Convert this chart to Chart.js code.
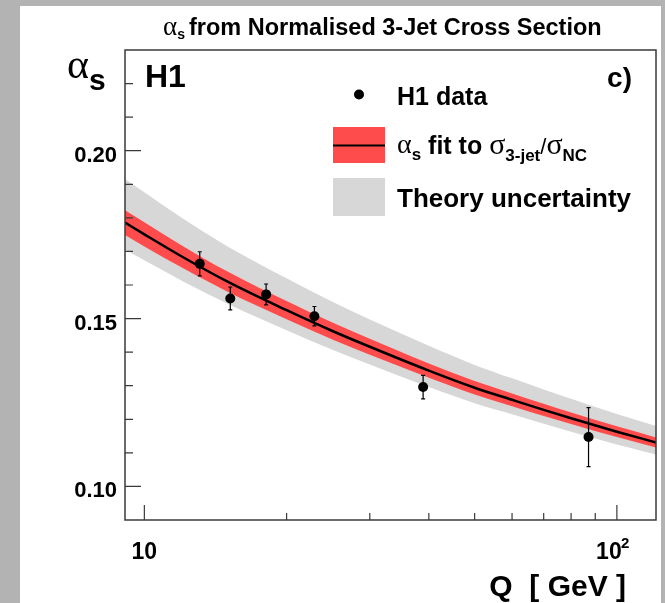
<!DOCTYPE html>
<html>
<head>
<meta charset="utf-8">
<title>alpha_s from normalised 3-jet cross section</title>
<script src="https://cdn.jsdelivr.net/npm/chart.js@4.4.1/dist/chart.umd.min.js"></script>
<style>
    html, body { margin: 0; padding: 0; background: #b3b3b3; }
    #wrap { width: 665px; height: 603px; }
</style>
</head>
<body>
<div id="wrap"><canvas id="alphaChart" width="665" height="603"></canvas></div>
<script>
const curveQ = [9.1, 10, 12, 15, 20, 25, 30, 40, 50, 60, 70, 80, 100, 121];
const fitAlpha = [0.1786, 0.1751, 0.1685, 0.1610, 0.1525, 0.1463, 0.1416, 0.1345, 0.1294, 0.1258, 0.1228, 0.1203, 0.1163, 0.1131];
const fitHi = [0.1823, 0.1787, 0.1718, 0.1640, 0.1552, 0.1488, 0.1440, 0.1366, 0.1314, 0.1277, 0.1246, 0.1220, 0.1179, 0.1146];
const fitLo = [0.1749, 0.1715, 0.1652, 0.1580, 0.1498, 0.1438, 0.1392, 0.1324, 0.1274, 0.1239, 0.1210, 0.1186, 0.1147, 0.1116];
const theoryHi = [0.1916, 0.1876, 0.1800, 0.1715, 0.1620, 0.1550, 0.1497, 0.1419, 0.1362, 0.1322, 0.1289, 0.1261, 0.1216, 0.1180];
const theoryLo = [0.1706, 0.1674, 0.1613, 0.1544, 0.1465, 0.1407, 0.1363, 0.1296, 0.1248, 0.1215, 0.1187, 0.1163, 0.1125, 0.1095];

// H1 data points
const dataQ = [13.1, 15.2, 18.1, 22.9, 38.9, 87.1];
const dataAlpha = [0.1663, 0.1560, 0.1572, 0.1507, 0.1296, 0.1147];
const dataErr = [0.0036, 0.0034, 0.0031, 0.0029, 0.0035, 0.0088];

// axis ticks
const yMajor = [0.10, 0.15, 0.20];
const yMinor = [0.11, 0.12, 0.13, 0.14, 0.16, 0.17, 0.18, 0.19, 0.21, 0.22];
const yLabels = ["0.10", "0.15", "0.20"];
const xMajor = [10, 100];
const xMinor = [20, 30, 40, 50, 60, 70, 80, 90];

const RED = "#fe4c4c";
const GREY = "#d7d7d7";
const BOLD = "bold {s}px 'Liberation Sans', Arial, sans-serif";
const SERIF = "{s}px 'Liberation Serif', 'Times New Roman', serif";
const font = (tpl, s) => tpl.replace("{s}", s);

const pts = ys => curveQ.map((q, i) => ({ x: q, y: ys[i] }));

function text(ctx, str, x, y, f, align) {
    ctx.font = f;
    ctx.textAlign = align || "left";
    ctx.textBaseline = "alphabetic";
    ctx.fillText(str, x, y);
    return x + ctx.measureText(str).width;
}

const backdrop = {
    id: "backdrop",
    beforeDraw(chart) {
        const ctx = chart.ctx;
        ctx.save();
        ctx.fillStyle = "#b3b3b3";
        ctx.fillRect(0, 0, chart.width, chart.height);
        ctx.fillStyle = "#ffffff";
        ctx.fillRect(20, 6, 641, 597);
        ctx.restore();
    }
};

const errorBars = {
    id: "errorBars",
    afterDatasetsDraw(chart) {
        const ctx = chart.ctx;
        const xs = chart.scales.x, ys = chart.scales.y;
        ctx.save();
        ctx.strokeStyle = "#000";
        ctx.lineWidth = 1.2;
        dataQ.forEach((q, i) => {
            const px = xs.getPixelForValue(q);
            const y1 = ys.getPixelForValue(dataAlpha[i] + dataErr[i]);
            const y2 = ys.getPixelForValue(dataAlpha[i] - dataErr[i]);
            ctx.beginPath();
            ctx.moveTo(px, y1); ctx.lineTo(px, y2);
            ctx.moveTo(px - 2, y1); ctx.lineTo(px + 2, y1);
            ctx.moveTo(px - 2, y2); ctx.lineTo(px + 2, y2);
            ctx.stroke();
        });
        ctx.restore();
    }
};

const decorations = {
    id: "decorations",
    afterDraw(chart) {
        const ctx = chart.ctx;
        const a = chart.chartArea;
        const xs = chart.scales.x, ys = chart.scales.y;
        ctx.save();
        ctx.fillStyle = "#000";

        // frame
        ctx.strokeStyle = "#3a3a3a";
        ctx.lineWidth = 1.5;
        ctx.strokeRect(a.left, a.top, a.right - a.left, a.bottom - a.top);

        // ticks, drawn inward like ROOT
        ctx.lineWidth = 1.2;
        ctx.beginPath();
        yMajor.forEach(v => { const p = ys.getPixelForValue(v); ctx.moveTo(a.left, p); ctx.lineTo(a.left + 16, p); });
        yMinor.forEach(v => { const p = ys.getPixelForValue(v); ctx.moveTo(a.left, p); ctx.lineTo(a.left + 8, p); });
        xMajor.forEach(v => { const p = xs.getPixelForValue(v); ctx.moveTo(p, a.bottom); ctx.lineTo(p, a.bottom - 15); });
        xMinor.forEach(v => { const p = xs.getPixelForValue(v); ctx.moveTo(p, a.bottom); ctx.lineTo(p, a.bottom - 7); });
        ctx.stroke();

        // tick labels
        yMajor.forEach((v, i) => text(ctx, yLabels[i], 117, ys.getPixelForValue(v) + 11, font(BOLD, 22), "right"));
        const x10 = xs.getPixelForValue(10);
        text(ctx, "10", x10, 559, font(BOLD, 23), "center");
        const x100 = xs.getPixelForValue(100);
        text(ctx, "10", x100 - 8, 559, font(BOLD, 23), "center");
        text(ctx, "2", x100 + 4, 548, font(BOLD, 15));

        // axis titles
        text(ctx, "Q  [ GeV ]", 626, 596, font(BOLD, 30), "right");
        let x = text(ctx, "\u03b1", 67, 78, font(SERIF, 42));
        text(ctx, "s", x, 90, font(BOLD, 30));

        // plot title
        x = text(ctx, "\u03b1", 163, 35, font(SERIF, 27));
        text(ctx, "s", x, 39, font(BOLD, 14));
        text(ctx, "from Normalised 3-Jet Cross Section", 189, 35, font(BOLD, 23.5));

        // labels in the frame
        text(ctx, "H1", 145, 87, font(BOLD, 32));
        text(ctx, "c)", 632, 87, font(BOLD, 28), "right");

        // legend
        ctx.beginPath();
        ctx.arc(359, 94.5, 5, 0, Math.PI * 2);
        ctx.fill();
        text(ctx, "H1 data", 397, 105, font(BOLD, 25));

        ctx.fillStyle = RED;
        ctx.fillRect(333, 127, 52, 36);
        ctx.fillStyle = "#000";
        ctx.fillRect(333, 144.5, 52, 2);
        x = text(ctx, "\u03b1", 397, 153, font(SERIF, 28));
        x = text(ctx, "s", x, 160, font(BOLD, 17));
        x = text(ctx, " fit to ", x, 154, font(BOLD, 25));
        x = text(ctx, "\u03c3", x, 154, font(SERIF, 30));
        x = text(ctx, "3-jet", x, 161, font(BOLD, 17));
        x = text(ctx, "/", x, 154, font("{s}px 'Liberation Sans', Arial, sans-serif", 22));
        x = text(ctx, "\u03c3", x, 154, font(SERIF, 30));
        text(ctx, "NC", x, 161, font(BOLD, 17));

        ctx.fillStyle = GREY;
        ctx.fillRect(333, 178, 52, 38);
        ctx.fillStyle = "#000";
        text(ctx, "Theory uncertainty", 397, 207, font(BOLD, 26));
        ctx.restore();
    }
};

const band = (ys, color, order, fill) => ({
    data: pts(ys),
    borderWidth: 0,
    pointRadius: 0,
    backgroundColor: color,
    fill: fill,
    order: order,
    cubicInterpolationMode: "monotone"
});

new Chart(document.getElementById("alphaChart"), {
    type: "line",
    data: {
        datasets: [
            band(theoryHi, GREY, 5, false),
            band(theoryLo, GREY, 4, "-1"),
            band(fitHi, RED, 3, false),
            band(fitLo, RED, 2, "-1"),
            {
                data: pts(fitAlpha),
                borderColor: "#000",
                borderWidth: 2.5,
                pointRadius: 0,
                fill: false,
                order: 1,
                cubicInterpolationMode: "monotone"
            },
            {
                data: dataQ.map((q, i) => ({ x: q, y: dataAlpha[i] })),
                showLine: false,
                pointRadius: 5,
                pointBackgroundColor: "#000",
                pointBorderColor: "#000",
                pointBorderWidth: 0,
                order: 0
            }
        ]
    },
    options: {
        responsive: false,
        animation: false,
        devicePixelRatio: 1,
        events: [],
        layout: { padding: { left: 125, top: 50, right: 9, bottom: 83 } },
        scales: {
            x: { type: "logarithmic", min: 9.1, max: 121, display: false },
            y: { type: "linear", min: 0.09, max: 0.23, display: false }
        },
        plugins: {
            legend: { display: false },
            tooltip: { enabled: false }
        }
    },
    plugins: [backdrop, errorBars, decorations]
});
</script>
</body>
</html>
